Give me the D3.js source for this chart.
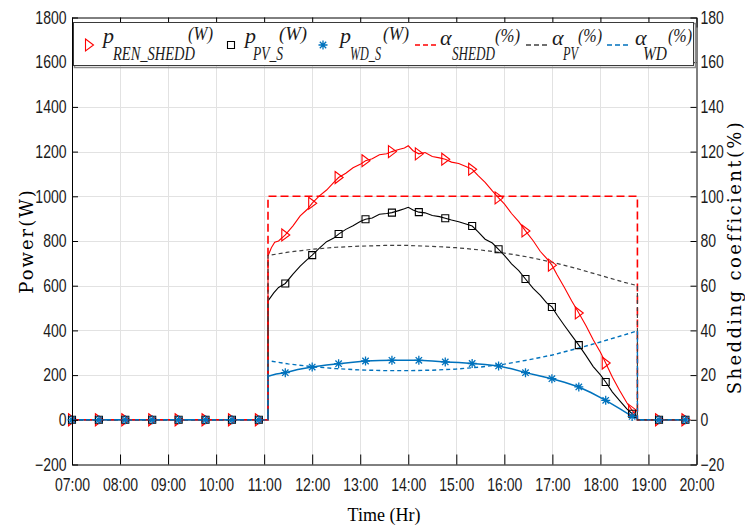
<!DOCTYPE html>
<html>
<head>
<meta charset="utf-8">
<script src="https://cdn.jsdelivr.net/npm/d3@7"></script>
<style>
  body { margin: 0; background: #fff; }
  .axis text { font-family: "Liberation Sans", Arial, sans-serif; font-size: 18px; fill: #1a1a1a; }
  .axis path, .axis line { stroke: #000; }
</style>
</head>
<body>
<div id="chart"></div>
<script>
// x ticks in hours
const hourTicks = [7, 8, 9, 10, 11, 12, 13, 14, 15, 16, 17, 18, 19, 20];
const powerTicks = [-200, 0, 200, 400, 600, 800, 1000, 1200, 1400, 1600, 1800];
const coefTicks = [-20, 0, 20, 40, 60, 80, 100, 120, 140, 160, 180];

// times (hr) where markers are drawn
const markerTimes = [7.00, 7.56, 8.11, 8.67, 9.22, 9.78, 10.33, 10.89, 11.44, 12.00, 12.55, 13.11,
  13.66, 14.22, 14.77, 15.33, 15.88, 16.44, 16.99, 17.55, 18.11, 18.66, 19.22, 19.77];

// p_REN_SHEDD (W)
const pRenShedd = [
  [7.00, 0], [7.56, 0], [8.11, 0], [8.67, 0], [9.22, 0], [9.78, 0], [10.33, 0], [10.89, 0], [11.08, 0],
  [11.08, 733], [11.15, 770], [11.22, 795], [11.30, 800], [11.44, 827], [11.60, 868], [11.75, 912],
  [11.90, 942], [12.00, 969], [12.15, 1002], [12.30, 1028], [12.45, 1062], [12.55, 1084], [12.70, 1103],
  [12.85, 1128], [13.00, 1143], [13.11, 1159], [13.25, 1168], [13.40, 1186], [13.55, 1190], [13.66, 1200],
  [13.80, 1209], [13.92, 1216], [14.00, 1226], [14.10, 1204], [14.22, 1190], [14.35, 1196], [14.50, 1178],
  [14.65, 1172], [14.77, 1166], [14.90, 1153], [15.05, 1147], [15.20, 1133], [15.33, 1121], [15.45, 1094],
  [15.60, 1062], [15.75, 1024], [15.88, 993], [16.00, 966], [16.15, 923], [16.30, 887], [16.44, 845],
  [16.60, 801], [16.75, 753], [16.88, 722], [16.99, 692], [17.10, 648], [17.25, 592], [17.40, 533],
  [17.55, 478], [17.70, 421], [17.85, 358], [18.00, 302], [18.11, 254], [18.25, 190], [18.40, 131],
  [18.55, 76], [18.66, 42], [18.77, 12], [18.77, 0], [19.22, 0], [19.77, 0]
];

// p_PV_S (W)
const pPvS = [
  [7.00, 0], [7.56, 0], [8.11, 0], [8.67, 0], [9.22, 0], [9.78, 0], [10.33, 0], [10.89, 0], [11.08, 0],
  [11.08, 532], [11.20, 568], [11.30, 592], [11.44, 610], [11.60, 652], [11.75, 688], [11.90, 718],
  [12.00, 737], [12.15, 768], [12.30, 797], [12.45, 813], [12.55, 831], [12.70, 852], [12.85, 868],
  [13.00, 887], [13.11, 897], [13.25, 903], [13.40, 920], [13.55, 923], [13.66, 927], [13.80, 936],
  [13.92, 944], [14.00, 951], [14.10, 939], [14.22, 929], [14.35, 926], [14.50, 914], [14.65, 909],
  [14.77, 902], [14.90, 894], [15.05, 886], [15.20, 876], [15.33, 867], [15.45, 842], [15.60, 808],
  [15.75, 791], [15.88, 763], [16.00, 736], [16.15, 698], [16.30, 667], [16.44, 630], [16.60, 588],
  [16.75, 557], [16.88, 523], [16.99, 505], [17.10, 468], [17.25, 422], [17.40, 378], [17.55, 334],
  [17.70, 287], [17.85, 238], [18.00, 201], [18.11, 169], [18.25, 124], [18.40, 86], [18.55, 49],
  [18.66, 27], [18.77, 5], [18.77, 0], [19.22, 0], [19.77, 0]
];

// p_WD_S (W)
const pWdS = [
  [7.00, 0], [7.56, 0], [8.11, 0], [8.67, 0], [9.22, 0], [9.78, 0], [10.33, 0], [10.89, 0], [11.08, 0],
  [11.08, 195], [11.25, 205], [11.44, 211], [11.70, 225], [12.00, 236], [12.30, 245], [12.55, 251],
  [12.85, 258], [13.11, 263], [13.40, 265], [13.66, 266], [13.95, 267], [14.22, 266], [14.50, 263],
  [14.77, 259], [15.05, 256], [15.33, 252], [15.60, 247], [15.88, 241], [16.15, 228], [16.44, 211],
  [16.70, 198], [16.99, 184], [17.25, 168], [17.55, 147], [17.80, 122], [18.11, 87], [18.40, 50],
  [18.66, 15], [18.77, 5], [18.77, 0], [19.22, 0], [19.77, 0]
];

// alpha_SHEDD (%)
const aShedd = [[7.00, 0], [11.08, 0], [11.08, 100], [18.77, 100], [18.77, 0], [19.77, 0]];

// alpha_PV (%)
const aPv = [
  [7.00, 0], [11.08, 0], [11.08, 73.5], [11.5, 75.0], [12.0, 76.3], [12.5, 77.2], [13.0, 77.7],
  [13.5, 78.0], [14.0, 78.0], [14.5, 77.6], [15.0, 77.0], [15.5, 76.0], [16.0, 74.6], [16.5, 72.8],
  [17.0, 70.5], [17.5, 67.7], [18.0, 64.6], [18.5, 61.5], [18.77, 60.0], [18.77, 0], [19.77, 0]
];

// alpha_WD (%)
const aWd = [
  [7.00, 0], [11.08, 0], [11.08, 26.5], [11.5, 25.0], [12.0, 23.8], [12.5, 22.9], [13.0, 22.3],
  [13.5, 22.0], [14.0, 22.0], [14.5, 22.2], [15.0, 22.7], [15.5, 23.6], [16.0, 24.9], [16.5, 26.8],
  [17.0, 29.0], [17.5, 31.8], [18.0, 34.8], [18.5, 38.0], [18.77, 39.8], [18.77, 0], [19.77, 0]
];

const legendMain = ['p', 'p', 'p', 'α', 'α', 'α'];
const legendSub = ['REN_SHEDD', 'PV_S', 'WD_S', 'SHEDD', 'PV', 'WD'];
const legendSup = ['(W)', '(W)', '(W)', '(%)', '(%)', '(%)'];

const width = 745, height = 526;
const plot = {left: 72, right: 696.5, top: 17.5, bottom: 464.5};

const svg = d3.select('#chart').append('svg')
  .attr('width', width)
  .attr('height', height);

const x = d3.scaleLinear().domain([7, 20]).range([plot.left, plot.right]);
const yL = d3.scaleLinear().domain([-200, 1800]).range([plot.bottom, plot.top]);
const yR = d3.scaleLinear().domain([-20, 180]).range([plot.bottom, plot.top]);

// grid
const grid = svg.append('g').attr('stroke', '#e2e2e2').attr('stroke-width', 1);
grid.selectAll('.vg').data(hourTicks.slice(1, -1)).enter().append('line')
  .attr('x1', d => Math.round(x(d)) + 0.5).attr('x2', d => Math.round(x(d)) + 0.5)
  .attr('y1', plot.top).attr('y2', plot.bottom);
grid.selectAll('.hg').data(powerTicks.slice(1, -1)).enter().append('line')
  .attr('x1', plot.left).attr('x2', plot.right)
  .attr('y1', d => Math.round(yL(d)) + 0.5).attr('y2', d => Math.round(yL(d)) + 0.5);

// lines
const lineL = d3.line().x(d => x(d[0])).y(d => yL(d[1]));
const lineR = d3.line().x(d => x(d[0])).y(d => yR(d[1]));

const powerSeries = [
  {data: pRenShedd, color: '#ff0000', width: 1.1},
  {data: pPvS, color: '#000000', width: 1.1},
  {data: pWdS, color: '#0072bd', width: 1.5}
];
const coefSeries = [
  {data: aShedd, color: '#ff0000', width: 1.6, dash: '8,4'},
  {data: aPv, color: '#404040', width: 1.2, dash: '4,3'},
  {data: aWd, color: '#0072bd', width: 1.4, dash: '4,3'}
];

powerSeries.forEach(s => {
  svg.append('path').datum(s.data)
    .attr('fill', 'none')
    .attr('stroke', s.color)
    .attr('stroke-width', s.width)
    .attr('d', lineL);
});
coefSeries.forEach(s => {
  svg.append('path').datum(s.data)
    .attr('fill', 'none')
    .attr('stroke', s.color)
    .attr('stroke-width', s.width)
    .attr('stroke-dasharray', s.dash)
    .attr('d', lineR);
});

// markers
const triPath = 'M-3.5,-6L4.5,0L-3.5,6Z';
const sqPath = 'M-3.5,-3.5h7v7h-7z';
const starPath = 'M-4.5,0H4.5M0,-4.5V4.5M-3.2,-3.2L3.2,3.2M-3.2,3.2L3.2,-3.2';
const markerPaths = [triPath, sqPath, starPath];

powerSeries.forEach((s, i) => {
  const pts = markerTimes.map(t => s.data.find(d => d[0] === t));
  svg.append('g').selectAll('path').data(pts).enter().append('path')
    .attr('transform', d => `translate(${x(d[0])},${yL(d[1])})`)
    .attr('d', markerPaths[i])
    .attr('fill', 'none')
    .attr('stroke', s.color)
    .attr('stroke-width', i === 2 ? 1.3 : 1.1);
});

// axes
const fmtHour = d => (d < 10 ? '0' : '') + d + ':00';
const narrow = g => g.selectAll('text').attr('transform', 'scale(0.78,1)');

svg.append('g').attr('class', 'axis')
  .attr('transform', `translate(0,${plot.bottom})`)
  .call(d3.axisBottom(x).tickValues(hourTicks).tickFormat(fmtHour).tickSizeInner(-10).tickSizeOuter(0).tickPadding(14))
  .call(narrow);

svg.append('g').attr('class', 'axis')
  .attr('transform', `translate(0,${plot.top})`)
  .call(d3.axisTop(x).tickValues(hourTicks).tickFormat('').tickSizeInner(-10).tickSizeOuter(0));

svg.append('g').attr('class', 'axis')
  .attr('transform', `translate(${plot.left},0)`)
  .call(d3.axisLeft(yL).tickValues(powerTicks).tickFormat(d3.format('d')).tickSizeInner(-6).tickSizeOuter(0).tickPadding(7))
  .call(narrow);

svg.append('g').attr('class', 'axis')
  .attr('transform', `translate(${plot.right},0)`)
  .call(d3.axisRight(yR).tickValues(coefTicks).tickFormat(d3.format('d')).tickSizeInner(-6).tickSizeOuter(0).tickPadding(5))
  .call(narrow);

// axis titles
svg.append('text')
  .attr('x', 384).attr('y', 521)
  .attr('text-anchor', 'middle')
  .style('font-family', '"Liberation Serif", serif')
  .style('font-size', '18px')
  .text('Time (Hr)');

svg.append('text')
  .attr('transform', 'translate(33,241) rotate(-90)')
  .attr('text-anchor', 'middle')
  .style('font-family', '"DejaVu Serif", serif')
  .style('font-size', '18px')
  .style('letter-spacing', '2px')
  .text('Power(W)');

svg.append('text')
  .attr('transform', 'translate(741,257) rotate(-90)')
  .attr('text-anchor', 'middle')
  .style('font-family', '"DejaVu Serif", serif')
  .style('font-size', '18px')
  .style('letter-spacing', '2.4px')
  .text('Shedding coefficient(%)');

// legend
const legend = svg.append('g');
legend.append('rect')
  .attr('x', 74.5).attr('y', 23.5).attr('width', 621).attr('height', 44)
  .attr('fill', 'none').attr('stroke', '#8c8c8c').attr('stroke-width', 1.5);
legend.append('rect')
  .attr('x', 73.5).attr('y', 22.5).attr('width', 620).attr('height', 43)
  .attr('fill', '#fff').attr('stroke', '#3a3a3a').attr('stroke-width', 1);

// [symbol x, main x, sub x, sub end, sup x, sup end]
const legendPos = [
  [89, 103, 113, 195, 188, 213],
  [231, 245, 253, 283, 279, 307],
  [323, 340, 350, 381, 383, 409],
  [415, 440, 452, 495, 495, 520],
  [526, 552, 563, 578, 578, 602],
  [607, 635, 643, 667, 668, 692]
];
const legendColors = ['#ff0000', '#000000', '#0072bd', '#ff0000', '#404040', '#0072bd'];

legendMain.forEach((m, i) => {
  const p = legendPos[i];
  if (i < 3) {
    legend.append('path')
      .attr('transform', `translate(${p[0]},45)`)
      .attr('d', markerPaths[i])
      .attr('fill', 'none')
      .attr('stroke', legendColors[i])
      .attr('stroke-width', i === 2 ? 1.3 : 1.1);
  } else {
    legend.append('line')
      .attr('x1', p[0]).attr('x2', p[0] + 23)
      .attr('y1', 45).attr('y2', 45)
      .attr('stroke', legendColors[i])
      .attr('stroke-width', 1.5)
      .attr('stroke-dasharray', '5,3');
  }
  const serif = '"Liberation Serif", serif';
  legend.append('text')
    .attr('x', p[1]).attr('y', i < 3 ? 43 : 45)
    .style('font-family', serif).style('font-style', 'italic').style('font-size', '22px')
    .attr('fill', '#1a1a1a')
    .text(m);
  legend.append('text')
    .attr('x', p[2]).attr('y', 60)
    .attr('textLength', p[3] - p[2]).attr('lengthAdjust', 'spacingAndGlyphs')
    .style('font-family', serif).style('font-style', 'italic').style('font-size', '18px')
    .attr('fill', '#1a1a1a')
    .text(legendSub[i]);
  legend.append('text')
    .attr('x', p[4]).attr('y', i < 3 ? 40 : 42)
    .attr('textLength', p[5] - p[4]).attr('lengthAdjust', 'spacingAndGlyphs')
    .style('font-family', serif).style('font-style', 'italic').style('font-size', '18px')
    .attr('fill', '#1a1a1a')
    .text(legendSup[i]);
});
</script>
</body>
</html>
